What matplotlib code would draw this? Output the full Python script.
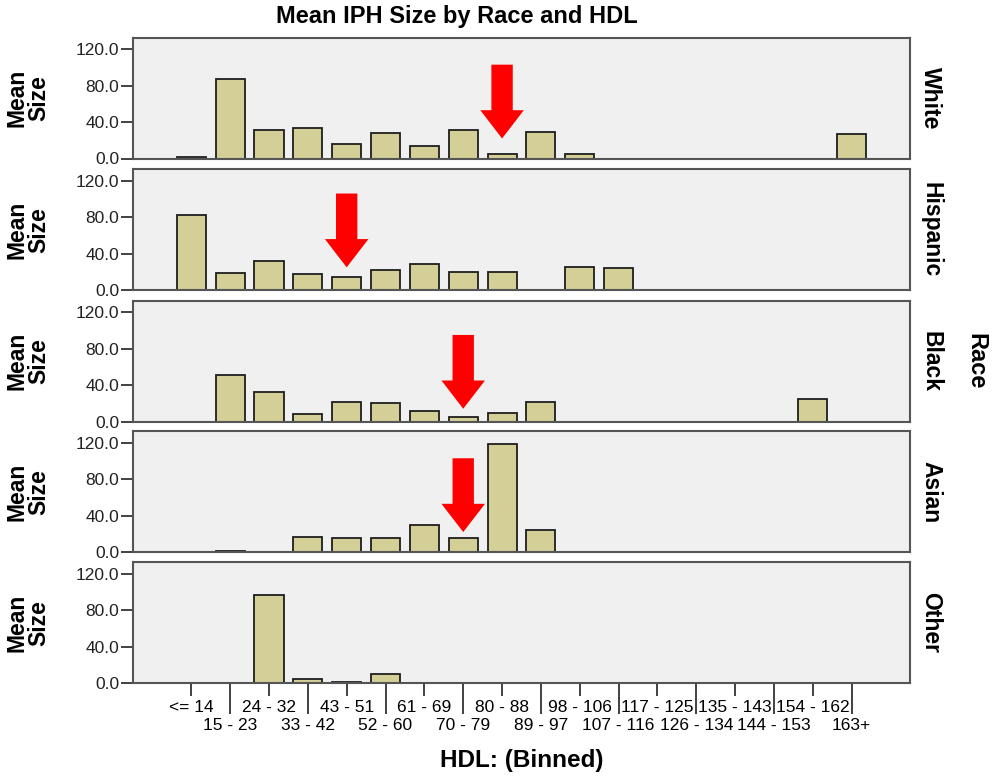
import matplotlib
matplotlib.use("Agg")
import matplotlib.pyplot as plt
import numpy as np

plt.rcParams['font.family'] = ['Liberation Sans', 'DejaVu Sans']

nan = np.nan

hdl_bins = ["<= 14", "15 - 23", "24 - 32", "33 - 42", "43 - 51", "52 - 60",
            "61 - 69", "70 - 79", "80 - 88", "89 - 97", "98 - 106", "107 - 116",
            "117 - 125", "126 - 134", "135 - 143", "144 - 153", "154 - 162", "163+"]

races = ["White", "Hispanic", "Black", "Asian", "Other"]

white = [2, 87, 31.5, 34, 16, 28.5, 14, 31, 4.5, 29, 5, nan, nan, nan, nan, nan, nan, 26.7]
hispanic = [82.6, 18.5, 32, 18, 14.8, 21.9, 29, 20, 20, nan, 25.5, 24.8, nan, nan, nan, nan, nan, nan]
black = [nan, 51, 32, 8, 21.5, 20, 11, 4.8, 9.3, 21.9, nan, nan, nan, nan, nan, nan, 24.8, nan]
asian = [nan, 1, nan, 16.7, 15.2, 15.6, 29.6, 15.6, 119, 24, nan, nan, nan, nan, nan, nan, nan, nan]
other = [nan, nan, 96.7, 4.8, 0.7, 10, nan, nan, nan, nan, nan, nan, nan, nan, nan, nan, nan, nan]
mean_size = [white, hispanic, black, asian, other]

# red arrows: which panel, which bin, top of arrow and tip (in Mean Size units)
arrow_race = [0, 1, 2, 3]
arrow_bin = [8, 4, 7, 7]
arrow_top = [103, 106, 95, 103]
arrow_tip = [22, 25, 14, 22]

W, H = 1005, 781
fig = plt.figure(figsize=(W / 100, H / 100), dpi=100)

left_px, right_px = 133, 910
panel_top = [37.7, 169.3, 300.7, 431.3, 562.3]
panel_h = 120.8

bar_color = "#d3cf97"
x = np.arange(len(hdl_bins))
axes = []
for i, race in enumerate(races):
    ax = fig.add_axes([left_px / W, 1 - (panel_top[i] + panel_h) / H,
                       (right_px - left_px) / W, panel_h / H])
    ax.set_facecolor("#f0f0f0")
    vals = np.array(mean_size[i], dtype=float)
    ax.bar(x, vals, width=0.75, color=bar_color, edgecolor="#1e1e1e", linewidth=1.3)
    ax.set_xlim(-1.5, len(hdl_bins) + 0.5)
    ax.set_ylim(0, 132.6)
    ax.set_yticks([0, 40, 80, 120])
    ax.set_yticklabels(["0.0", "40.0", "80.0", "120.0"], fontsize=12.5, color="#222222")
    ax.tick_params(axis='y', length=9, width=1.3, pad=1, color="#333333")
    for s in ax.spines.values():
        s.set_color("#555555")
        s.set_linewidth(1.5)
    ax.set_ylabel("Mean\nSize", fontsize=16.5, fontweight="bold", linespacing=0.95)
    ax.yaxis.set_label_coords(-0.106, 0.5)
    ax.text(1.012, 0.5, race, transform=ax.transAxes, rotation=-90, fontsize=16.5,
            fontweight="bold", ha="left", va="center")
    if i < len(races) - 1:
        ax.set_xticks([])
    else:
        ax.set_xticks(x[::2])
        ax.set_xticklabels(hdl_bins[::2], fontsize=12.5)
        ax.set_xticks(x[1::2], minor=True)
        ax.set_xticklabels(hdl_bins[1::2], minor=True, fontsize=12.5)
        ax.tick_params(axis='x', which='major', length=9, width=1.3, pad=3, color="#333333")
        ax.tick_params(axis='x', which='minor', length=22, width=1.3, pad=3, color="#333333")
        ax.set_xlabel("HDL: (Binned)", fontsize=17.5, fontweight="bold", labelpad=12)
    axes.append(ax)

for r, b, top, tip in zip(arrow_race, arrow_bin, arrow_top, arrow_tip):
    axes[r].arrow(b, top, 0, tip - top, width=0.55, head_width=1.12, head_length=31,
                  length_includes_head=True, color="#ff0000", linewidth=0, zorder=5)

fig.text(457 / W, 1 - 17 / H, "Mean IPH Size by Race and HDL", fontsize=17,
         fontweight="bold", ha="center", va="center")
fig.text(976 / W, 1 - 361 / H, "Race", fontsize=17, fontweight="bold",
         rotation=-90, ha="center", va="center")

fig.savefig("out.png", dpi=100)
